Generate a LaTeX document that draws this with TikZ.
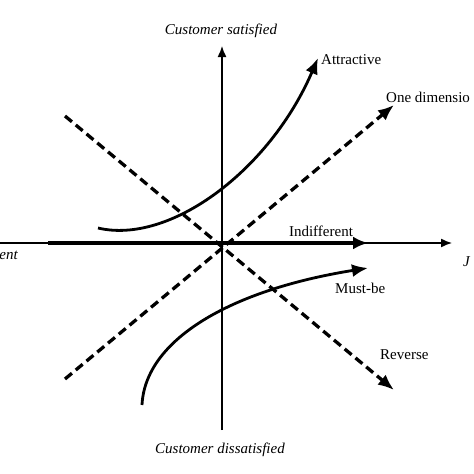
\documentclass[tikz,border=0pt]{standalone}
\usepackage{fontspec}
\setmainfont{Liberation Serif}
\usetikzlibrary{arrows.meta}
\tikzset{
  lbl/.style={font=\fontsize{15}{18}\selectfont, inner sep=0pt},
  ilbl/.style={font=\fontsize{15}{18}\selectfont\itshape, inner sep=0pt},
  axisline/.style={line width=1.4pt, -{Latex[length=11pt,width=9pt]}},
  thickarrow/.style={line width=3.2pt, -{Latex[length=15pt,width=13pt]}},
  curvearrow/.style={line width=2.8pt, -{Latex[length=16pt,width=13pt]}},
  dasharrow/.style={line width=3.3pt, dash pattern=on 9pt off 5pt, -{Latex[length=16pt,width=13pt]}},
}
\begin{document}
\begin{tikzpicture}[x=1pt,y=-1pt]
\useasboundingbox (0,0) rectangle (474,474);
% coordinates
\coordinate (hl) at (0,243);
\coordinate (hr) at (452,243);
\coordinate (vb) at (222,430);
\coordinate (vt) at (222,46);
\coordinate (il) at (48,243);
\coordinate (ir) at (368,243);
\coordinate (a0) at (98,228);
\coordinate (a1) at (318,58);
\coordinate (m0) at (142,405);
\coordinate (m1) at (368,268);
\coordinate (o0) at (65,379);
\coordinate (o1) at (394,105);
\coordinate (r0) at (65,116);
\coordinate (r1) at (394,390);
% axes
\draw[axisline] (hl) -- (hr);
\draw[axisline] (vb) -- (vt);
% indifferent
\draw[thickarrow] (il) -- (ir);
% dashed
\draw[dasharrow] (o0) -- (o1);
\draw[dasharrow] (r0) -- (r1);
% curves
\draw[curvearrow] (a0) .. controls (170,245) and (270,170) .. (a1);
\draw[curvearrow] (m0) .. controls (145,340) and (230,290) .. (m1);
% labels
\node[ilbl] (sat) at (221,31) {Customer satisfied};
\node[ilbl] (dis) at (220,450) {Customer dissatisfied};
\node[ilbl, anchor=east] (lft) at (18,255) {ent};
\node[ilbl, anchor=west] (rgt) at (463,262) {J};
\node[lbl, anchor=west] (att) at (321,60) {Attractive};
\node[lbl, anchor=west] (one) at (386,97) {One dimensio};
\node[lbl] (ind) at (321,231) {Indifferent};
\node[lbl, anchor=west] (must) at (335,288) {Must-be};
\node[lbl, anchor=west] (rev) at (380,355) {Reverse};
\end{tikzpicture}
\end{document}
